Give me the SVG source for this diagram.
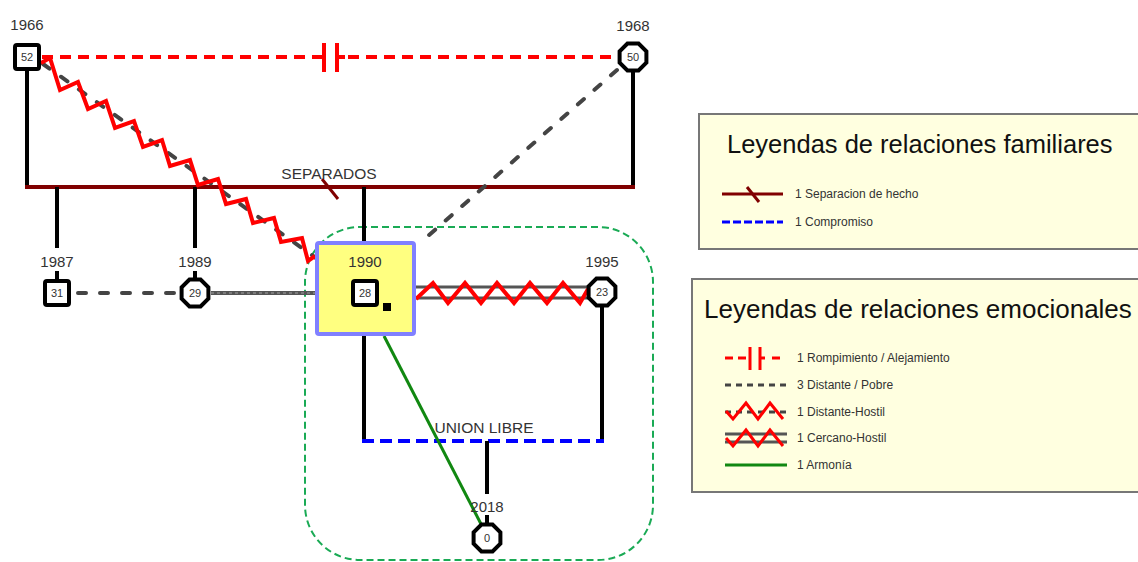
<svg xmlns="http://www.w3.org/2000/svg" width="1138" height="562" viewBox="0 0 1138 562">
<style>
text{font-family:"Liberation Sans",Arial,sans-serif;fill:#333}
.yr{font-size:15px;text-anchor:middle}
.num{font-size:11px;text-anchor:middle}
.lbl{font-size:15.5px;text-anchor:middle}
.lt{font-size:12px}
.blk{stroke:#000;stroke-width:4;fill:none}
.sq{fill:#fff;stroke:#000;stroke-width:4}
.oc{fill:#fff;stroke:#000;stroke-width:4}
.red{stroke:#ff0000;stroke-width:4;fill:none}
.gd{stroke:#444;stroke-width:4;fill:none;stroke-dasharray:8 14;stroke-linecap:round}
.gl{stroke:#555;stroke-width:3;fill:none}
</style>
<defs>
<polygon id="oct" points="13.4,5.55 5.55,13.4 -5.55,13.4 -13.4,5.55 -13.4,-5.55 -5.55,-13.4 5.55,-13.4 13.4,-5.55"/>
</defs>
<rect width="1138" height="562" fill="#fff"/>

<g id="connectors">
<rect x="305" y="227" width="348" height="333" rx="55" fill="none" stroke="#1aaa55" stroke-width="2" stroke-dasharray="7 4"/>
<line class="blk" x1="27" y1="70" x2="27" y2="187"/>
<line class="blk" x1="633" y1="70" x2="633" y2="187"/>
<line x1="25" y1="187" x2="635" y2="187" stroke="#800000" stroke-width="4"/>
<line x1="322" y1="179" x2="338" y2="199" stroke="#800000" stroke-width="3"/>
<line class="blk" x1="57" y1="187" x2="57" y2="248"/>
<line class="blk" x1="57" y1="271" x2="57" y2="280"/>
<line class="blk" x1="195" y1="187" x2="195" y2="248"/>
<line class="blk" x1="195" y1="271" x2="195" y2="280"/>
<line class="blk" x1="364" y1="187" x2="364" y2="242"/>
<line class="blk" x1="364" y1="335" x2="364" y2="442"/>
<line class="blk" x1="602" y1="306" x2="602" y2="442"/>
<line x1="362" y1="441" x2="604" y2="441" stroke="#0000ff" stroke-width="4" stroke-dasharray="12 6"/>
<line class="blk" x1="487" y1="441" x2="487" y2="494"/>
<line class="blk" x1="487" y1="515" x2="487" y2="524"/>
<line x1="42" y1="57" x2="619" y2="57" stroke="#ff0000" stroke-width="4" stroke-dasharray="11 7"/>
<rect x="316" y="50" width="28" height="14" fill="#fff"/>
<line class="red" x1="324" y1="43" x2="324" y2="72"/>
<line class="red" x1="337" y1="43" x2="337" y2="72"/>
<line x1="316" y1="57" x2="324" y2="57" stroke="#ff0000" stroke-width="4"/>
<line x1="337" y1="57" x2="345" y2="57" stroke="#ff0000" stroke-width="4"/>
<line class="gd" x1="43" y1="64" x2="316" y2="258" stroke-dasharray="9 9"/>
<polyline class="red" stroke-width="3.5" stroke-linejoin="miter" points="41,63 50,58 60,90 78,82 88,109 106,101 115,128 134,121 143,147 162,140 170,166 190,160 198,185 218,179 226,204 246,199 253,223 274,218 281,242 302,238 308,261 315,256"/>
<line class="gd" x1="617" y1="70" x2="420" y2="243"/>
<line class="gd" x1="78" y1="293" x2="180" y2="293" stroke="#555" stroke-dasharray="8 10"/>
<line x1="211" y1="293" x2="316" y2="293" stroke="#555" stroke-width="4"/>
<line x1="211" y1="293" x2="316" y2="293" stroke="#888" stroke-width="1.5" stroke-dasharray="3 3"/>
<line class="gl" x1="416" y1="287" x2="588" y2="287"/>
<line class="gl" x1="416" y1="298" x2="588" y2="298"/>
<polyline class="red" points="416,299 433,283 448,303 465,283 481,303 497,283 514,303 530,283 547,303 563,283 580,303 588,289"/>
<line x1="384" y1="336" x2="481" y2="524" stroke="#118811" stroke-width="3"/>
</g>

<g id="n52">
<text class="yr" x="27" y="30">1966</text>
<rect class="sq" x="15" y="45" width="24" height="24" rx="2"/>
<text class="num" x="27" y="61">52</text>
</g>
<g id="n50">
<text class="yr" x="633" y="31">1968</text>
<use href="#oct" class="oc" x="633" y="57"/>
<text class="num" x="633" y="61">50</text>
</g>
<g id="n31">
<text class="yr" x="57" y="267">1987</text>
<rect class="sq" x="45" y="281" width="24" height="24" rx="2"/>
<text class="num" x="57" y="297">31</text>
</g>
<g id="n29">
<text class="yr" x="195" y="267">1989</text>
<use href="#oct" class="oc" x="195" y="293"/>
<text class="num" x="195" y="297">29</text>
</g>
<g id="n28">
<rect x="317" y="243" width="97" height="91" rx="2" fill="#ffff80" stroke="#8080ff" stroke-width="4"/>
<text class="yr" x="365" y="267">1990</text>
<rect class="sq" x="353" y="281" width="24" height="24" rx="2"/>
<text class="num" x="365" y="297">28</text>
<rect x="383" y="303" width="8" height="8" fill="#000"/>
</g>
<g id="n23">
<text class="yr" x="602" y="267">1995</text>
<use href="#oct" class="oc" x="602" y="292"/>
<text class="num" x="602" y="296">23</text>
</g>
<g id="n0">
<text class="yr" x="487" y="512">2018</text>
<use href="#oct" class="oc" x="487" y="538"/>
<text class="num" x="487" y="542">0</text>
</g>
<g id="labels">
<text class="lbl" x="329" y="179">SEPARADOS</text>
<text class="lbl" x="484" y="433">UNION LIBRE</text>
</g>

<g id="legend-familiares">
<rect x="699" y="114" width="460" height="135" fill="#ffffe0" stroke="#777" stroke-width="2"/>
<text x="727" y="153" font-size="25.5" style="fill:#111">Leyendas de relaciones familiares</text>
<line x1="722" y1="194" x2="783" y2="194" stroke="#800000" stroke-width="3"/>
<line x1="747" y1="187" x2="759" y2="202" stroke="#800000" stroke-width="3"/>
<text class="lt" x="795" y="198">1 Separacion de hecho</text>
<line x1="722" y1="222" x2="783" y2="222" stroke="#0000ff" stroke-width="3" stroke-dasharray="8 3"/>
<text class="lt" x="795" y="226">1 Compromiso</text>
</g>

<g id="legend-emocionales">
<rect x="692" y="279" width="460" height="213" fill="#ffffe0" stroke="#777" stroke-width="2"/>
<text x="704" y="318" font-size="26" style="fill:#111">Leyendas de relaciones emocionales</text>
<line x1="725" y1="358" x2="733" y2="358" stroke="#ff0000" stroke-width="3"/>
<line x1="738" y1="358" x2="746" y2="358" stroke="#ff0000" stroke-width="3"/>
<line x1="750" y1="347" x2="750" y2="370" stroke="#ff0000" stroke-width="3"/>
<line x1="760" y1="347" x2="760" y2="370" stroke="#ff0000" stroke-width="3"/>
<line x1="760" y1="358" x2="765" y2="358" stroke="#ff0000" stroke-width="3"/>
<line x1="772" y1="358" x2="780" y2="358" stroke="#ff0000" stroke-width="3"/>
<text class="lt" x="797" y="362">1 Rompimiento / Alejamiento</text>
<line x1="725" y1="385" x2="787" y2="385" stroke="#444" stroke-width="3" stroke-dasharray="6 5"/>
<text class="lt" x="797" y="389">3 Distante / Pobre</text>
<line x1="725" y1="412" x2="787" y2="412" stroke="#444" stroke-width="3" stroke-dasharray="6 5"/>
<polyline points="726,411 733,419 746,403 758,419 770,403 783,419" fill="none" stroke="#ff0000" stroke-width="3"/>
<text class="lt" x="797" y="416">1 Distante-Hostil</text>
<line x1="725" y1="434" x2="787" y2="434" stroke="#555" stroke-width="3"/>
<line x1="725" y1="442" x2="787" y2="442" stroke="#555" stroke-width="3"/>
<polyline points="726,438 733,446 746,430 758,446 770,430 783,446" fill="none" stroke="#ff0000" stroke-width="3"/>
<text class="lt" x="797" y="442">1 Cercano-Hostil</text>
<line x1="725" y1="465" x2="787" y2="465" stroke="#118811" stroke-width="3"/>
<text class="lt" x="797" y="469">1 Armonía</text>
</g>
</svg>
